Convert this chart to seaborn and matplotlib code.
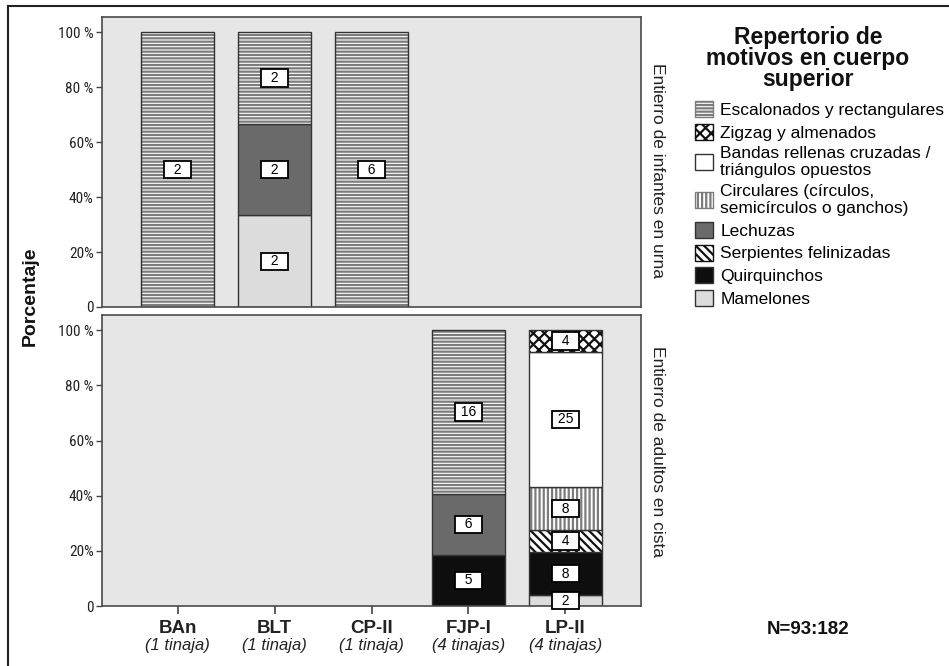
import numpy as np
import pandas as pd
import matplotlib
matplotlib.use("Agg")
import matplotlib.pyplot as plt
import seaborn as sns
from matplotlib.patches import Patch
from matplotlib.lines import Line2D
from matplotlib import font_manager

# ---------------- data ----------------
sites = ["BAn", "BLT", "CP-II", "FJP-I", "LP-II"]
tinajas = ["(1 tinaja)", "(1 tinaja)", "(1 tinaja)", "(4 tinajas)", "(4 tinajas)"]
motifs = [
    "Escalonados y rectangulares",
    "Zigzag y almenados",
    "Bandas rellenas cruzadas /\ntriángulos opuestos",
    "Circulares (círculos,\nsemicírculos o ganchos)",
    "Lechuzas",
    "Serpientes felinizadas",
    "Quirquinchos",
    "Mamelones",
]
panels = ["Entierro de infantes en urna", "Entierro de adultos en cista"]
yticklabels = ["0", "20%", "40%", "60%", "80 %", "100 %"]
legend_title = "Repertorio de\nmotivos en cuerpo\nsuperior"
n_note = "N=93:182"

# counts (same order as motifs) per site — infantes en urna
inf_escalonados = [2, 2, 6, 0, 0]
inf_zigzag = [0, 0, 0, 0, 0]
inf_bandas = [0, 0, 0, 0, 0]
inf_circulares = [0, 0, 0, 0, 0]
inf_lechuzas = [0, 2, 0, 0, 0]
inf_serpientes = [0, 0, 0, 0, 0]
inf_quirquinchos = [0, 0, 0, 0, 0]
inf_mamelones = [0, 2, 0, 0, 0]

# adultos en cista
adu_escalonados = [0, 0, 0, 16, 0]
adu_zigzag = [0, 0, 0, 0, 4]
adu_bandas = [0, 0, 0, 0, 25]
adu_circulares = [0, 0, 0, 0, 8]
adu_lechuzas = [0, 0, 0, 6, 0]
adu_serpientes = [0, 0, 0, 0, 4]
adu_quirquinchos = [0, 0, 0, 5, 8]
adu_mamelones = [0, 0, 0, 0, 2]

infantes = pd.DataFrame(
    [inf_escalonados, inf_zigzag, inf_bandas, inf_circulares,
     inf_lechuzas, inf_serpientes, inf_quirquinchos, inf_mamelones],
    index=motifs, columns=sites)
adultos = pd.DataFrame(
    [adu_escalonados, adu_zigzag, adu_bandas, adu_circulares,
     adu_lechuzas, adu_serpientes, adu_quirquinchos, adu_mamelones],
    index=motifs, columns=sites)

# ---------------- styles ----------------
styles = {
    motifs[0]: dict(fc="white", hatch="-----", hc="#7c7c7c"),
    motifs[1]: dict(fc="white", hatch="xxx", hc="#111111"),
    motifs[2]: dict(fc="white", hatch=None, hc="#333333"),
    motifs[3]: dict(fc="white", hatch="||||", hc="#7c7c7c"),
    motifs[4]: dict(fc="#6a6a6a", hatch=None, hc="#333333"),
    motifs[5]: dict(fc="white", hatch="\\\\\\\\", hc="#111111"),
    motifs[6]: dict(fc="#0e0e0e", hatch=None, hc="#0e0e0e"),
    motifs[7]: dict(fc="#dcdcdc", hatch=None, hc="#333333"),
}
stack_order = motifs[::-1]

plt.rcParams["font.family"] = ["Liberation Sans", "DejaVu Sans"]
plt.rcParams["hatch.linewidth"] = 1.6

# narrow font for the y tick labels, if one is installed
_fonts = font_manager.fontManager.ttflist
_names = {f.name for f in _fonts}
tick_font = dict(family=["Liberation Sans"], fontsize=10)
for cand in ["Liberation Sans Narrow", "Roboto Condensed", "Open Sans Condensed",
             "Noto Sans Condensed", "DejaVu Sans Condensed"]:
    if cand in _names:
        tick_font = dict(family=[cand], fontsize=11)
        break
else:
    _cond = [f for f in _fonts if ("condensed" in str(f.stretch).lower()
                                   or f.stretch in (500 - 200, 400 - 100, 300)
                                   or "Narrow" in f.name or "Condensed" in f.name)
             and f.weight in ("normal", 400, "regular")]
    if _cond:
        f0 = _cond[0]
        tick_font = dict(family=[f0.name], stretch=f0.stretch, fontsize=11)

W, H = 949, 666
fig = plt.figure(figsize=(W / 100, H / 100), dpi=100)

ax_top = fig.add_axes([102 / W, 1 - 307 / H, 539 / W, 290 / H])
ax_bot = fig.add_axes([102 / W, 1 - 606 / H, 539 / W, 291 / H])

edge_dark = "#333333"


def box_label(c):
    s = str(c)
    sp = " " * (3 - len(s))
    return f"{sp}{s}{sp}"


def draw_panel(ax, counts):
    totals = counts.sum(axis=0)
    pct = counts / totals.replace(0, np.nan) * 100
    bottom = pd.Series(0.0, index=sites)
    for motif in stack_order:
        present = [s for s in sites if counts.loc[motif, s] > 0]
        if not present:
            continue
        vals = pct.loc[motif, present].values
        df = pd.DataFrame({"site": present, "pct": vals})
        st = styles[motif]
        b = bottom[present].values
        sns.barplot(data=df, x="site", y="pct", order=sites, ax=ax,
                    width=0.75, errorbar=None, saturation=1,
                    color=st["fc"], edgecolor=st["hc"], hatch=st["hatch"],
                    linewidth=0, bottom=b)
        sns.barplot(data=df, x="site", y="pct", order=sites, ax=ax,
                    width=0.75, errorbar=None, saturation=1, fill=False,
                    color=edge_dark, linewidth=1.0, bottom=b)
        for s, v, bb in zip(present, vals, b):
            ax.text(sites.index(s), bb + v / 2, box_label(counts.loc[motif, s]),
                    ha="center", va="center", fontsize=10, zorder=5,
                    bbox=dict(boxstyle="square,pad=0.12", fc="white",
                              ec="black", lw=1.3))
        bottom[present] += vals


for ax, counts, title, ypos in [(ax_top, infantes, panels[0], 0.47),
                                (ax_bot, adultos, panels[1], 0.53)]:
    draw_panel(ax, counts)
    ax.set_facecolor("#e6e6e6")
    ax.set_xlim(-0.78, 4.78)
    ax.set_ylim(0, 105.5)
    ax.set_xlabel("")
    ax.set_ylabel("")
    ax.set_yticks([0, 20, 40, 60, 80, 100])
    ax.set_yticklabels(yticklabels, color="#222222", **tick_font)
    ax.tick_params(axis="y", length=4, width=1, color="#444444", pad=2)
    for sp in ax.spines.values():
        sp.set_color("#4a4a4a")
        sp.set_linewidth(1.2)
    ax.text(1.03, ypos, title, transform=ax.transAxes, rotation=-90,
            ha="center", va="center", fontsize=12.5, color="#222222")

ax_top.set_xticks([])
ax_bot.set_xticks(range(len(sites)))
ax_bot.set_xticklabels(sites, fontweight="bold", fontsize=13.5, color="#222222")
ax_bot.tick_params(axis="x", length=6, width=1.2, color="#444444", pad=4)
for i, t in enumerate(tinajas):
    ax_bot.annotate(t, xy=(i, 0), xycoords=("data", "axes fraction"),
                    xytext=(0, -23), textcoords="offset points",
                    ha="center", va="top", fontsize=12, style="italic",
                    color="#222222")

fig.text(30 / W, 1 - 296 / H, "Porcentaje", rotation=90, ha="center",
         va="center", fontsize=14, fontweight="bold", color="#111111")

# legend
fig.text(808 / W, 1 - 26 / H, legend_title, ha="center", va="top",
         fontsize=16.5, fontweight="bold", linespacing=0.88, color="#111111")
handles = [Patch(facecolor=styles[m]["fc"], edgecolor=styles[m]["hc"]
                 if styles[m]["hatch"] else edge_dark,
                 hatch=styles[m]["hatch"], linewidth=1) for m in motifs]
fig.legend(handles, motifs, loc="upper left",
           bbox_to_anchor=(695 / W, 1 - 101 / H), frameon=False,
           borderpad=0, borderaxespad=0, fontsize=12.5, handlelength=1.05,
           handleheight=1.05, handletextpad=0.4, labelspacing=0.32)

fig.text(808 / W, 1 - 630 / H, n_note, ha="center", va="center",
         fontsize=13.5, fontweight="bold", color="#111111")

# outer frame
fig.add_artist(Line2D([8 / W, 1], [1 - 6 / H, 1 - 6 / H],
                      transform=fig.transFigure, color="#222222", lw=1.5))
fig.add_artist(Line2D([8 / W, 8 / W], [0, 1 - 6 / H],
                      transform=fig.transFigure, color="#222222", lw=1.5))

fig.savefig("out.png", dpi=100)
